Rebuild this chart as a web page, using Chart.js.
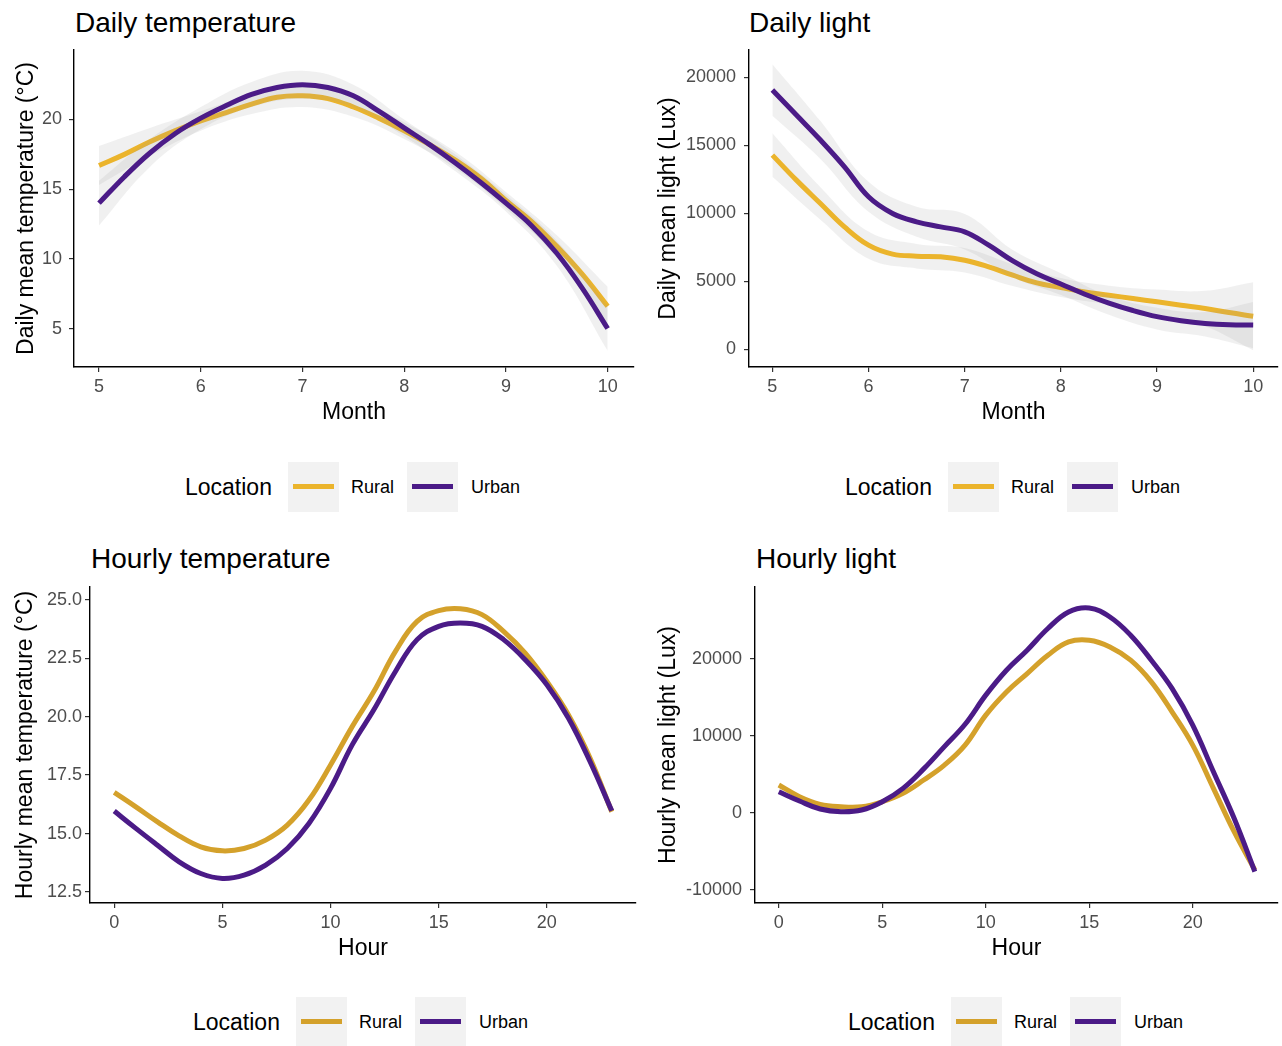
<!DOCTYPE html>
<html>
<head>
<meta charset="utf-8">
<script src="https://cdn.jsdelivr.net/npm/chart.js@4.4.1/dist/chart.umd.min.js"></script>
<style>
body { margin: 0; background: #fff; width: 1282px; height: 1046px; position: relative; overflow: hidden; font-family: "Liberation Sans", Arial, sans-serif; }
canvas { position: absolute; }
.title { position: absolute; font-size: 28px; line-height: 28px; color: #000; white-space: nowrap; }
.leg { position: absolute; height: 50px; width: 340px; }
.leg span { position: absolute; top: 0; line-height: 50px; white-space: nowrap; color: #000; }
.leg .key { position: absolute; top: 0; width: 51px; height: 50px; background: #f2f2f2; }
.leg .key i { position: absolute; left: 5px; width: 41px; top: 22px; height: 5px; }
</style>
</head>
<body>
<div class="title" style="left:75px;top:9px">Daily temperature</div>
<div class="title" style="left:749px;top:9px">Daily light</div>
<div class="title" style="left:91px;top:545px">Hourly temperature</div>
<div class="title" style="left:756px;top:545px">Hourly light</div>

<canvas id="c1" width="640" height="400" style="left:0;top:40px"></canvas>
<canvas id="c2" width="642" height="400" style="left:640px;top:40px"></canvas>
<canvas id="c3" width="640" height="400" style="left:0;top:577px"></canvas>
<canvas id="c4" width="642" height="400" style="left:640px;top:577px"></canvas>

<script>
// x grids
const monthGrid = [5, 5.25, 5.5, 5.75, 6, 6.25, 6.5, 6.75, 7, 7.25, 7.5, 7.75, 8, 8.25, 8.5, 8.75, 9, 9.25, 9.5, 9.75, 10];
const bandMonths = [5, 5.5, 6, 6.5, 7, 7.5, 8, 8.5, 9, 9.5, 10];
const hourGrid = [0, 1, 2, 3, 4, 5, 6, 7, 8, 9, 10, 11, 12, 13, 14, 15, 16, 17, 18, 19, 20, 21, 22, 23];

// tick labels
const monthTicks = [5, 6, 7, 8, 9, 10];
const hourTicks = [0, 5, 10, 15, 20];
const dailyTempTicks = [5, 10, 15, 20];
const dailyLightTicks = [0, 5000, 10000, 15000, 20000];
const hourlyTempTicks = [12.5, 15, 17.5, 20, 22.5, 25];
const hourlyLightTicks = [-10000, 0, 10000, 20000];

// daily temperature (smoothed fits + ribbons)
const dailyTempRural = [16.7, 17.5, 18.4, 19.2, 19.9, 20.5, 21.1, 21.6, 21.7, 21.5, 20.9, 20.1, 19.2, 18.2, 17.1, 15.8, 14.2, 12.7, 10.9, 8.9, 6.6];
const dailyTempUrban = [14.0, 15.9, 17.6, 19.0, 20.1, 21.0, 21.8, 22.3, 22.5, 22.3, 21.7, 20.6, 19.4, 18.2, 16.9, 15.5, 14.0, 12.4, 10.4, 7.9, 5.0];
const dailyTempRuralLo = [15.3, 17.4, 19.2, 20.4, 20.9, 20.2, 18.6, 16.5, 13.6, 10.1, 5.2];
const dailyTempRuralHi = [18.1, 19.4, 20.6, 21.8, 22.5, 21.6, 19.8, 17.7, 14.8, 11.7, 8.0];
const dailyTempUrbanLo = [12.4, 16.6, 19.3, 20.9, 21.5, 20.9, 18.8, 16.3, 13.4, 9.5, 3.4];
const dailyTempUrbanHi = [15.6, 18.6, 20.9, 22.7, 23.5, 22.5, 20.0, 17.5, 14.6, 11.3, 6.6];

// daily light
const dailyLightRural = [14280, 12440, 10720, 9000, 7655, 7000, 6850, 6800, 6550, 6060, 5450, 4880, 4540, 4220, 3980, 3730, 3490, 3240, 3000, 2700, 2430];
const dailyLightUrban = [19070, 17230, 15390, 13420, 11215, 9990, 9375, 9000, 8640, 7655, 6500, 5550, 4800, 4050, 3400, 2850, 2400, 2100, 1900, 1800, 1780];
const dailyLightRuralLo = [12680, 9520, 6655, 5950, 5650, 4650, 3840, 3280, 2590, 1700, -70];
const dailyLightRuralHi = [15880, 11920, 8655, 7750, 7450, 6250, 5240, 4680, 4390, 4300, 4930];
const dailyLightUrbanLo = [17170, 13990, 10115, 8275, 7340, 5300, 4000, 2540, 1460, 940, 70];
const dailyLightUrbanHi = [20970, 16790, 12315, 10475, 9940, 7300, 5600, 3940, 3060, 2740, 3470];

// hourly temperature
const hourlyTempRural = [16.76, 16.14, 15.5, 14.9, 14.43, 14.26, 14.36, 14.72, 15.36, 16.43, 17.93, 19.57, 21.07, 22.79, 24.07, 24.53, 24.61, 24.36, 23.64, 22.71, 21.5, 20.07, 18.22, 15.93];
const hourlyTempUrban = [15.96, 15.22, 14.5, 13.79, 13.29, 13.08, 13.22, 13.65, 14.36, 15.43, 16.93, 18.79, 20.29, 21.93, 23.29, 23.86, 24.0, 23.86, 23.29, 22.43, 21.36, 19.93, 18.07, 15.97];

// hourly light
const hourlyLightRural = [3600, 2080, 1090, 780, 780, 1430, 2520, 4250, 6190, 8790, 12690, 15710, 18100, 20480, 22210, 22430, 21560, 19830, 17010, 13120, 8790, 3170, -2470, -7440];
const hourlyLightUrban = [2730, 1520, 480, 130, 350, 1430, 3170, 5700, 8600, 11500, 15290, 18530, 21130, 23950, 26100, 26620, 25450, 23080, 19830, 16160, 11390, 5320, -730, -7660];

const ruralTop = '#ebb42c';
const ruralBottom = '#d4a12b';
const urbanColor = '#4b1b87';
const bandColor = 'rgba(153,153,153,0.15)';

Chart.defaults.font.family = '"Liberation Sans", Arial, sans-serif';

function pts(xs, ys) {
    return xs.map((x, i) => ({ x: x, y: ys[i] }));
}

function lineSet(xs, ys, color) {
    return { data: pts(xs, ys), borderColor: color, borderWidth: 5, pointRadius: 0, tension: 0.4, fill: false };
}

function bandSet(xs, ys, fill) {
    return { data: pts(xs, ys), borderColor: 'transparent', borderWidth: 0, pointRadius: 0,
        tension: 0.4, fill: fill, backgroundColor: bandColor };
}

function axis(min, max, ticks, fmt, title, titlePad, size, tickPad) {
    return {
        type: 'linear', min: min, max: max,
        afterBuildTicks: s => { s.ticks = ticks.map(v => ({ value: v })); },
        afterFit: s => {
            if (s.isHorizontal()) s.height = size; else s.width = size;
            // keep the plot box fixed, labels may overhang
            s.paddingTop = 0; s.paddingBottom = 0; s.paddingLeft = 0; s.paddingRight = 0;
        },
        grid: { drawOnChartArea: false, drawTicks: true, tickLength: 5, tickColor: '#333', lineWidth: 1.2 },
        border: { display: true, color: '#000', width: 1.4 },
        ticks: { font: { size: 18 }, color: '#4d4d4d', padding: tickPad, autoSkip: false, maxRotation: 0, callback: fmt },
        title: { display: true, text: title, color: '#000', font: { size: 23 }, padding: titlePad }
    };
}

function panel(id, datasets, p) {
    return new Chart(document.getElementById(id), {
        type: 'line',
        data: { datasets: datasets },
        options: {
            responsive: false, animation: false, events: [],
            layout: { padding: { top: 10, right: p.right, left: 0, bottom: 0 } },
            plugins: { legend: { display: false }, tooltip: { enabled: false } },
            scales: {
                x: axis(p.x[0], p.x[1], p.xTicks, v => String(v), p.xTitle, { top: 0, bottom: p.xPad }, p.xH, 4),
                y: axis(p.y[0], p.y[1], p.yTicks, p.yFmt, p.yTitle, { top: p.yPad, bottom: 0 }, p.yW, p.yTickPad)
            }
        }
    });
}

// datasets drawn last-to-first: index 0 ends on top
var dailyTempChart = panel('c1', [
    lineSet(monthGrid, dailyTempUrban, urbanColor),
    bandSet(bandMonths, dailyTempUrbanHi, '+1'),
    bandSet(bandMonths, dailyTempUrbanLo, false),
    lineSet(monthGrid, dailyTempRural, ruralTop),
    bandSet(bandMonths, dailyTempRuralHi, '+1'),
    bandSet(bandMonths, dailyTempRuralLo, false)
], { right: 6, yW: 74, xH: 73, x: [4.754, 10.259], y: [2.24, 24.99], xTicks: monthTicks, yTicks: dailyTempTicks,
     yFmt: v => String(v), xTitle: 'Month', yTitle: 'Daily mean temperature (°C)', xPad: 14, yPad: 13, yTickPad: 7 });

var dailyLightChart = panel('c2', [
    lineSet(monthGrid, dailyLightUrban, urbanColor),
    bandSet(bandMonths, dailyLightUrbanHi, '+1'),
    bandSet(bandMonths, dailyLightUrbanLo, false),
    lineSet(monthGrid, dailyLightRural, ruralTop),
    bandSet(bandMonths, dailyLightRuralHi, '+1'),
    bandSet(bandMonths, dailyLightRuralLo, false)
], { right: 4, yW: 109, xH: 73, x: [4.757, 10.258], y: [-1303, 22010], xTicks: monthTicks, yTicks: dailyLightTicks,
     yFmt: v => String(v), xTitle: 'Month', yTitle: 'Daily mean light (Lux)', xPad: 14, yPad: 15, yTickPad: 8 });

var hourlyTempChart = panel('c3', [
    lineSet(hourGrid, hourlyTempUrban, urbanColor),
    lineSet(hourGrid, hourlyTempRural, ruralBottom)
], { right: 4, yW: 90, xH: 74, x: [-1.12, 24.12], y: [12.03, 25.54], xTicks: hourTicks, yTicks: hourlyTempTicks,
     yFmt: v => v.toFixed(1), xTitle: 'Hour', yTitle: 'Hourly mean temperature (°C)', xPad: 15, yPad: 12, yTickPad: 3 });

var hourlyLightChart = panel('c4', [
    lineSet(hourGrid, hourlyLightUrban, urbanColor),
    lineSet(hourGrid, hourlyLightRural, ruralBottom)
], { right: 4, yW: 115, xH: 74, x: [-1.15, 24.12], y: [-11740, 29350], xTicks: hourTicks, yTicks: hourlyLightTicks,
     yFmt: v => String(v), xTitle: 'Hour', yTitle: 'Hourly mean light (Lux)', xPad: 15, yPad: 15, yTickPad: 8 });

function legend(left, cy, rural) {
    const d = document.createElement('div');
    d.className = 'leg';
    d.style.left = left + 'px';
    d.style.top = (cy - 25) + 'px';
    d.innerHTML =
        '<span style="left:0;font-size:23px">Location</span>' +
        '<div class="key" style="left:103px"><i style="background:' + rural + '"></i></div>' +
        '<span style="left:166px;font-size:18px">Rural</span>' +
        '<div class="key" style="left:222px"><i style="background:' + urbanColor + '"></i></div>' +
        '<span style="left:286px;font-size:18px">Urban</span>';
    document.body.appendChild(d);
}

legend(185, 487, ruralTop);
legend(845, 487, ruralTop);
legend(193, 1022, ruralBottom);
legend(848, 1022, ruralBottom);
</script>
</body>
</html>
